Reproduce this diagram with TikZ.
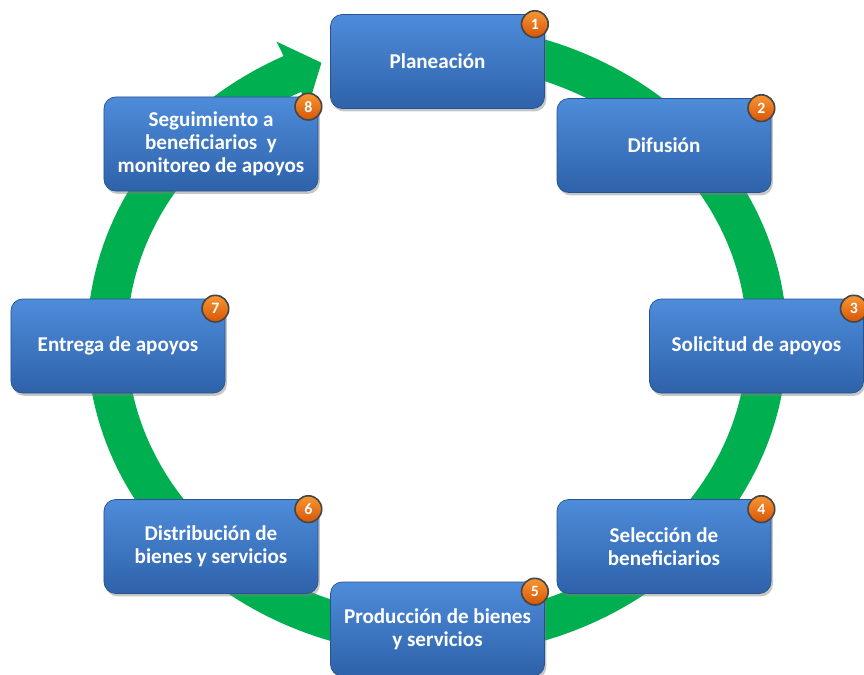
\documentclass[tikz,border=0pt]{standalone}
\usepackage{fontspec}
\setmainfont{Carlito}
\usetikzlibrary{shadows,calc}
\definecolor{ringgreen}{RGB}{0,176,80}
\definecolor{boxtop}{RGB}{78,140,218}
\definecolor{boxbot}{RGB}{46,98,170}
\definecolor{badgetop}{RGB}{248,150,50}
\definecolor{badgebot}{RGB}{214,86,8}
\begin{document}
\begin{tikzpicture}[x=0.03cm,y=-0.03cm,
  stepbox/.style={rounded corners=10pt, minimum width=6.42cm, minimum height=2.82cm,
    top color=boxtop, bottom color=boxbot, draw=boxbot!85!black, line width=0.6pt,
    drop shadow={opacity=0.45, shadow xshift=1.5pt, shadow yshift=-2.5pt},
    text=white, font=\fontsize{18}{19.5}\selectfont\bfseries, align=center, inner sep=2pt},
  badge/.style={circle, minimum size=0.8cm, inner sep=0pt, top color=badgetop, bottom color=badgebot,
    draw=gray!55!black, line width=1.4pt, text=white, font=\fontsize{13.5}{13.5}\selectfont\bfseries},
  ring/.style={draw=ringgreen, line width=34pt},
  head/.style={fill=ringgreen, draw=none}]
\useasboundingbox (0,0) rectangle (864,675);
% green ring
\draw[ring] plot[domain=-80:244.5, samples=160, smooth] ({437+330*cos(\x)}, {340+296*sin(\x)});
\coordinate (hOut) at ({437+366*cos(244)}, {340+332*sin(244)});
\coordinate (hIn) at ({437+294*cos(244)}, {340+260*sin(244)});
\coordinate (hTip) at ({437+330*cos(249.5)}, {340+296*sin(249.5)});
\fill[head] (hOut) -- (hTip) -- (hIn) -- cycle;
% boxes
\node[stepbox] (n1) at (437.5,61.5) {Planeación};
\node[stepbox] (n2) at (664,145.5) {Difusión};
\node[stepbox] (n3) at (756.5,346) {Solicitud de apoyos};
\node[stepbox] (n4) at (664,546.5) {Selección de\\beneficiarios};
\node[stepbox] (n5) at (437.5,629) {Producción de bienes\\y servicios};
\node[stepbox] (n6) at (211,546.5) {Distribución de\\bienes y servicios};
\node[stepbox] (n7) at (118,346) {Entrega de apoyos};
\node[stepbox] (n8) at (211,144) {Seguimiento a\\beneficiarios~ y\\monitoreo de apoyos};
% badges
\foreach \i in {1,...,8}{
  \node[badge] (k\i) at ($(n\i.north east)+(-10,10)$) {\i};
}
\end{tikzpicture}
\end{document}
